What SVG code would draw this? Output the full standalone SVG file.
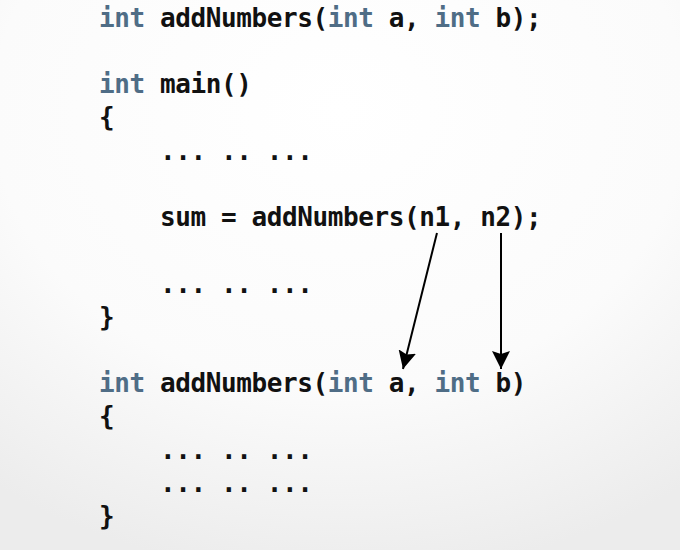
<svg xmlns="http://www.w3.org/2000/svg" width="680" height="550" viewBox="0 0 680 550">
<defs>
<radialGradient id="bg" cx="0.5" cy="0.2" r="0.85">
<stop offset="0" stop-color="#ffffff"/>
<stop offset="0.6" stop-color="#fbfbfb"/>
<stop offset="1" stop-color="#ececec"/>
</radialGradient>
<marker id="head" viewBox="0 0 18 18" refX="18" refY="9" markerUnits="userSpaceOnUse" markerWidth="18" markerHeight="18" orient="auto">
<path d="M0,0 L18,9 L0,18 L3,9 z" fill="#000"/>
</marker>
</defs>
<style>
.code{font-family:"DejaVu Sans Mono","Liberation Mono",monospace;font-size:26px;letter-spacing:-0.4px;font-weight:bold;fill:#111}
.k{fill:#4f6d86}
.conn{stroke:#000;stroke-width:2;fill:none}
</style>
<rect width="680" height="550" fill="url(#bg)"/>
<g id="prototype">
<text class="code" x="99" y="27"><tspan class="k">int</tspan> addNumbers(<tspan class="k">int</tspan> a, <tspan class="k">int</tspan> b);</text>
</g>
<g id="main">
<text class="code" x="99" y="93"><tspan class="k">int</tspan> main()</text>
<text class="code" x="99" y="126">{</text>
<text class="code" x="160" y="160">... .. ...</text>
<text class="code" x="160" y="226">sum = addNumbers(n1, n2);</text>
<text class="code" x="160" y="293">... .. ...</text>
<text class="code" x="99" y="326">}</text>
</g>
<g id="definition">
<text class="code" x="99" y="392"><tspan class="k">int</tspan> addNumbers(<tspan class="k">int</tspan> a, <tspan class="k">int</tspan> b)</text>
<text class="code" x="99" y="425">{</text>
<text class="code" x="160" y="459">... .. ...</text>
<text class="code" x="160" y="492">... .. ...</text>
<text class="code" x="99" y="525">}</text>
</g>
<g id="connectors">
<line class="conn" x1="437" y1="233" x2="403" y2="369" marker-end="url(#head)"/>
<line class="conn" x1="501" y1="233" x2="501" y2="369" marker-end="url(#head)"/>
</g>
</svg>
